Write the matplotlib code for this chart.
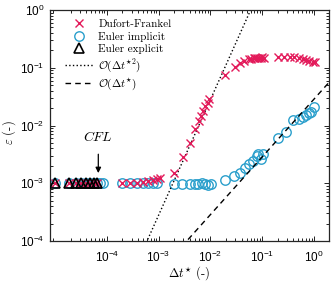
import numpy as np
import matplotlib
matplotlib.use("Agg")
import matplotlib.pyplot as plt
from matplotlib.ticker import LogLocator, NullFormatter

plt.rcParams['font.family'] = ['Liberation Sans', 'DejaVu Sans']
plt.rcParams['mathtext.fontset'] = 'cm'

# ---------------- data ----------------
ee_dt = [1.0e-5, 1.86e-5, 2.54e-5, 3.17e-5, 3.96e-5, 4.73e-5, 5.66e-5, 6.46e-5]
ee_eps = [1.0e-3] * 8

df_dt = [1.0e-5, 1.86e-5, 2.54e-5, 3.17e-5, 3.96e-5, 4.73e-5, 5.66e-5, 6.46e-5,
         1.94e-4, 2.81e-4, 3.83e-4, 5.0e-4, 6.24e-4, 7.8e-4, 9.3e-4, 1.06e-3,
         2.01e-3, 2.92e-3, 4.04e-3, 5.12e-3, 6.11e-3, 6.6e-3, 7.3e-3, 7.99e-3,
         8.87e-3, 9.53e-3, 1.94e-2, 3.03e-2, 3.73e-2, 4.51e-2, 5.63e-2,
         6.2e-2, 6.8e-2, 7.4e-2, 8.0e-2, 8.6e-2, 9.3e-2, 1.0e-1, 1.1e-1,
         0.199, 0.267, 0.344, 0.417, 0.52, 0.605, 0.701, 0.812, 0.944, 1.045]
df_eps = [1.0e-3] * 8 + \
         [1.0e-3, 1.0e-3, 1.0e-3, 1.05e-3, 1.1e-3, 1.15e-3, 1.2e-3, 1.25e-3,
          1.49e-3, 2.88e-3, 5.04e-3, 8.8e-3, 1.2e-2, 1.45e-2, 1.8e-2, 2.15e-2,
          2.5e-2, 2.9e-2, 7.49e-2, 0.104, 0.119, 0.131, 0.140,
          0.142, 0.145, 0.147, 0.148, 0.150, 0.150, 0.151, 0.150,
          0.152, 0.152, 0.155, 0.152, 0.146, 0.140, 0.136, 0.133, 0.127, 0.126]

ei_dt = [1.0e-5, 1.86e-5, 2.54e-5, 3.17e-5, 3.96e-5, 4.73e-5, 5.66e-5, 6.46e-5,
         7.5e-5, 8.6e-5, 1.94e-4, 2.81e-4, 3.83e-4, 5.0e-4, 6.24e-4, 7.8e-4, 9.3e-4,
         2.01e-3, 2.86e-3, 3.95e-3, 4.96e-3, 5.8e-3, 6.9e-3, 8.0e-3, 8.8e-3, 1.03e-2,
         1.94e-2, 2.89e-2, 3.73e-2, 4.72e-2, 5.64e-2, 6.73e-2, 7.83e-2, 8.18e-2,
         0.102, 9.49e-2, 0.199, 0.288, 0.398, 0.52, 0.605, 0.70, 0.79, 0.875, 1.01]
ei_eps = [1.0e-3] * 17 + \
         [0.98e-3, 0.98e-3, 0.98e-3, 0.97e-3, 0.98e-3, 1.03e-3, 0.98e-3, 0.92e-3, 0.96e-3,
          1.12e-3, 1.34e-3, 1.52e-3, 1.82e-3, 2.13e-3, 2.43e-3, 2.96e-3, 3.25e-3,
          3.17e-3, 2.6e-3, 6.0e-3, 7.8e-3, 1.25e-2, 1.28e-2, 1.42e-2, 1.52e-2,
          1.63e-2, 1.73e-2, 2.07e-2]

ref_dt = [1e-6, 1e1]
order2_coef = 280.0
order1_coef = 0.0286

labels = ['Dufort-Frankel', 'Euler implicit', 'Euler explicit',
          r'$\mathcal{O}(\Delta t^{\star 2})$', r'$\mathcal{O}(\Delta t^{\star})$']

red = '#E31A5A'
blue = '#2A9FCC'

fig = plt.figure(figsize=(3.32, 2.82), dpi=100)
ax = fig.add_axes([50/332, 41/282, 279/332, 231/282])

h1, = ax.plot(df_dt, df_eps, 'x', color=red, ms=5.5, mew=1.0, zorder=3, label=labels[0])
h2, = ax.plot(ei_dt, ei_eps, 'o', mfc='none', mec=blue, ms=6.8, mew=1.0, zorder=2, label=labels[1])
h3, = ax.plot(ee_dt, ee_eps, '^', mfc='none', mec='k', ms=6.5, mew=1.2, zorder=4, label=labels[2])
rd = np.array(ref_dt)
h4, = ax.plot(rd, order2_coef * rd**2, ':', color='k', lw=1.0, label=labels[3])
h5, = ax.plot(rd, order1_coef * rd, '--', color='k', lw=1.0, dashes=(4, 3), label=labels[4])

ax.set_xscale('log')
ax.set_yscale('log')
ax.set_xlim(8e-6, 1.95)
ax.set_ylim(1e-4, 1)

ax.xaxis.set_minor_locator(LogLocator(base=10, subs=np.arange(2, 10), numticks=20))
ax.yaxis.set_minor_locator(LogLocator(base=10, subs=np.arange(2, 10), numticks=20))
ax.xaxis.set_minor_formatter(NullFormatter())
ax.yaxis.set_minor_formatter(NullFormatter())
ax.set_xticks([1e-4, 1e-3, 1e-2, 1e-1, 1e0])
ax.set_yticks([1e-4, 1e-3, 1e-2, 1e-1, 1e0])

ax.tick_params(which='both', direction='in', top=True, right=True, labelsize=8.5, width=0.6)
ax.tick_params(axis='x', which='major', pad=6)
ax.tick_params(axis='y', which='major', pad=4)
ax.tick_params(which='major', length=3.5)
ax.tick_params(which='minor', length=2)
for s in ax.spines.values():
    s.set_linewidth(0.9)
    s.set_color('#262626')

ax.set_xlabel(r'$\Delta t^{\star}$ (-)', family='cmr10', fontsize=9, labelpad=0)
ax.set_ylabel(r'$\varepsilon$ (-)', family='cmr10', fontsize=9)
ax.yaxis.set_label_coords(-0.115, 0.47)

ax.annotate(r'$CFL$', xy=(6.85e-5, 1.5e-3), xytext=(6.85e-5, 6.2e-3),
            ha='center', va='center', fontsize=10,
            arrowprops=dict(arrowstyle='-|>', color='k', lw=0.9, shrinkA=5, shrinkB=0,
                            mutation_scale=8))

ax.legend(handles=[h1, h2, h3, h4, h5], loc='upper left', bbox_to_anchor=(0.03, 0.99),
          frameon=False, prop={'family': 'cmr10', 'size': 8}, handlelength=2.6,
          handletextpad=0.4, labelspacing=0.25, borderaxespad=0.2)

fig.savefig('out.png', dpi=100)
